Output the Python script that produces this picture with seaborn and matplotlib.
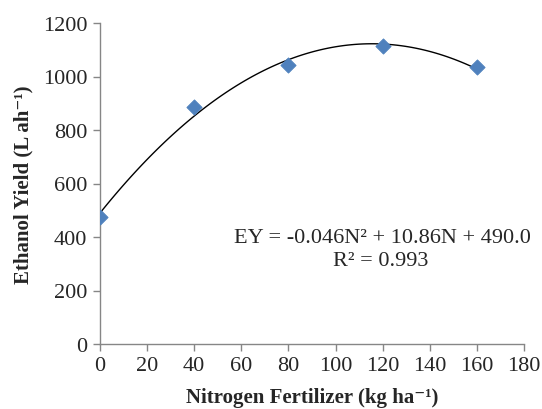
import numpy as np
import pandas as pd
import matplotlib
matplotlib.use("Agg")
import matplotlib.pyplot as plt
import seaborn as sns

# -----------------------------
# Data
# -----------------------------

nitrogen = [0, 40, 80, 120, 160]
ethanol_yield = [476, 886, 1043, 1114, 1035]

x_ticks = [0, 20, 40, 60, 80, 100, 120, 140, 160, 180]
y_ticks = [0, 200, 400, 600, 800, 1000, 1200]

equation_text = "EY = -0.046N\u00b2 + 10.86N + 490.0"
r2_text = "R\u00b2 = 0.993"

data = pd.DataFrame({"N": nitrogen, "EY": ethanol_yield})

# -----------------------------
# Plot
# -----------------------------

sns.set_style("white")
plt.rcParams["font.family"] = ["Liberation Serif", "DejaVu Serif"]
plt.rcParams["mathtext.default"] = "regular"

fig = plt.figure(figsize=(5.42, 4.10), dpi=100)
ax = fig.add_axes([100 / 542, 1 - 345 / 410, (524 - 100) / 542, (345 - 24) / 410])

sns.regplot(
    x="N",
    y="EY",
    data=data,
    order=2,
    ci=None,
    scatter=False,
    truncate=True,
    line_kws={"color": "black", "linewidth": 1.0},
    ax=ax
)

sns.scatterplot(
    x="N",
    y="EY",
    data=data,
    marker="D",
    s=60,
    color="#4F81BD",
    edgecolor="#4F81BD",
    zorder=3,
    ax=ax
)

ax.set_xlim(0, 180)
ax.set_ylim(0, 1200)
ax.set_xticks(x_ticks)
ax.set_yticks(y_ticks)
ax.tick_params(axis="both", labelsize=16, length=5, width=1,
               color="#868686", direction="out", pad=4)
ax.tick_params(axis="x", bottom=True)
ax.tick_params(axis="y", left=True)

for side in ["top", "right"]:
    ax.spines[side].set_visible(False)
for side in ["left", "bottom"]:
    ax.spines[side].set_color("#868686")
    ax.spines[side].set_linewidth(1)

ax.set_xlabel("Nitrogen Fertilizer (kg ha\u207b\u00b9)", fontsize=15,
              fontweight="bold", labelpad=8)
ax.set_ylabel("Ethanol Yield (L ah\u207b\u00b9)", fontsize=15,
              fontweight="bold", labelpad=7)

ax.text(0.665, 0.333, equation_text, transform=ax.transAxes,
        ha="center", va="center", fontsize=16)
ax.text(0.662, 0.259, r2_text, transform=ax.transAxes,
        ha="center", va="center", fontsize=16)

fig.savefig("out.png", dpi=100)
